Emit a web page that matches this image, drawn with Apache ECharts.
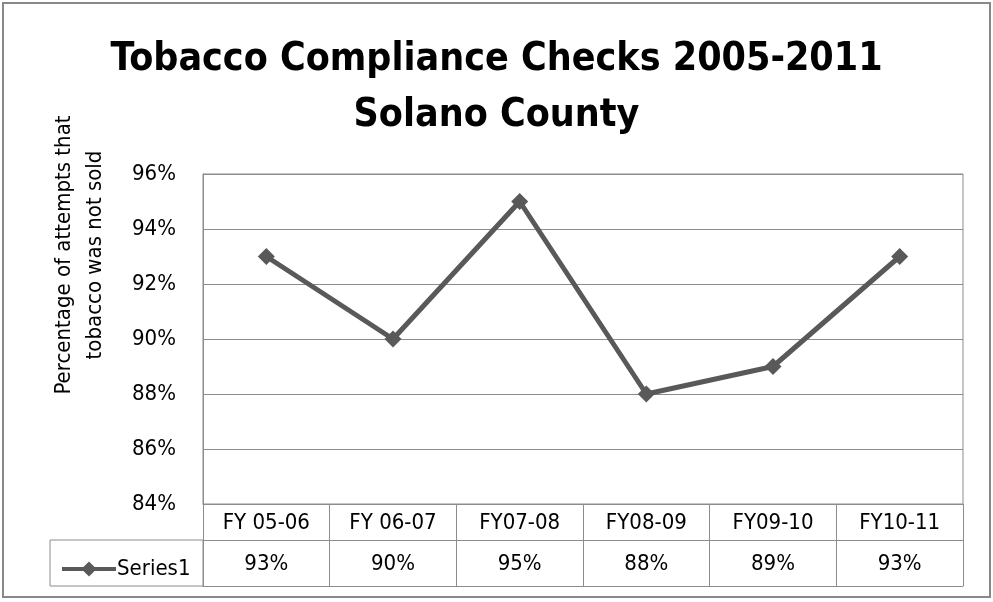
<!DOCTYPE html>
<html>
<head>
<meta charset="utf-8">
<script src="https://cdn.jsdelivr.net/npm/echarts@6/dist/echarts.min.js"></script>
<style>
  html, body { margin: 0; padding: 0; background: #fff; }
  #chart { width: 993px; height: 602px; }
</style>
</head>
<body>
<div id="chart"></div>
<script>
var categories = ['FY 05-06', 'FY 06-07', 'FY07-08', 'FY08-09', 'FY09-10', 'FY10-11'];
var values = [93, 90, 95, 88, 89, 93];
var seriesName = 'Series1';
var yMin = 84, yMax = 96, yStep = 2;

var font = '"DejaVu Sans Condensed", "Liberation Sans", sans-serif';
var gray = '#8c8c8c';
var lineColor = '#595959';

var chart = echarts.init(document.getElementById('chart'));

var option = {
    backgroundColor: '#fff',
    textStyle: { fontFamily: font },
    title: {
        text: 'Tobacco Compliance Checks 2005-2011\nSolano County',
        left: 'center',
        top: 27,
        textStyle: { fontFamily: font, fontSize: 39, fontWeight: 'bold', color: '#000', lineHeight: 56 }
    },
    legend: {
        data: [seriesName],
        left: 55,
        top: 553,
        itemWidth: 54,
        itemHeight: 19,
        itemGap: 4,
        lineStyle: { width: 4, color: lineColor },
        itemStyle: { color: lineColor },
        textStyle: { fontFamily: font, fontSize: 22, color: '#000', padding: [0, 0, 0, -4] }
    },
    grid: {
        left: 203, right: 30, top: 174, bottom: 98,
        show: true, borderColor: gray, borderWidth: 1
    },
    xAxis: [{
        type: 'category',
        data: categories,
        boundaryGap: true,
        axisLine: { lineStyle: { color: gray } },
        axisTick: { show: true, length: 82, interval: 0, lineStyle: { color: gray } },
        axisLabel: { interval: 0, margin: 8, fontSize: 22, color: '#000', fontFamily: font }
    }, {
        type: 'category',
        data: categories,
        position: 'bottom',
        offset: 36,
        axisLine: { lineStyle: { color: gray } },
        axisTick: { show: false },
        axisLabel: {
            interval: 0, margin: 13, fontSize: 22, color: '#000', fontFamily: font,
            formatter: function (v, i) { return values[i] + '%'; }
        }
    }, {
        type: 'category',
        data: categories,
        position: 'bottom',
        offset: 82,
        axisLine: { lineStyle: { color: gray } },
        axisTick: { show: false },
        axisLabel: { show: false }
    }],
    yAxis: {
        type: 'value',
        min: yMin, max: yMax, interval: yStep,
        name: 'Percentage of attempts that\ntobacco was not sold',
        nameLocation: 'middle',
        nameGap: 92,
        nameTextStyle: { fontFamily: font, fontSize: 22, color: '#000', lineHeight: 31, padding: [0, 0, 0, 168] },
        axisLine: { show: true, lineStyle: { color: gray } },
        axisTick: { show: false },
        splitLine: { lineStyle: { color: gray } },
        axisLabel: { fontSize: 22, color: '#000', margin: 27, fontFamily: font, formatter: '{value}%' }
    },
    graphic: [{
        type: 'rect',
        shape: { x: 50, y: 540, width: 153, height: 46 },
        style: { fill: 'none', stroke: gray, lineWidth: 1 }
    }, {
        type: 'rect',
        shape: { x: 3, y: 3, width: 987, height: 594 },
        style: { fill: 'none', stroke: '#888', lineWidth: 2 }
    }],
    series: [{
        name: seriesName,
        type: 'line',
        data: values,
        symbol: 'diamond',
        symbolSize: 17,
        lineStyle: { color: lineColor, width: 5 },
        itemStyle: { color: lineColor },
        label: { show: false }
    }]
};

chart.setOption(option);
</script>
</body>
</html>
